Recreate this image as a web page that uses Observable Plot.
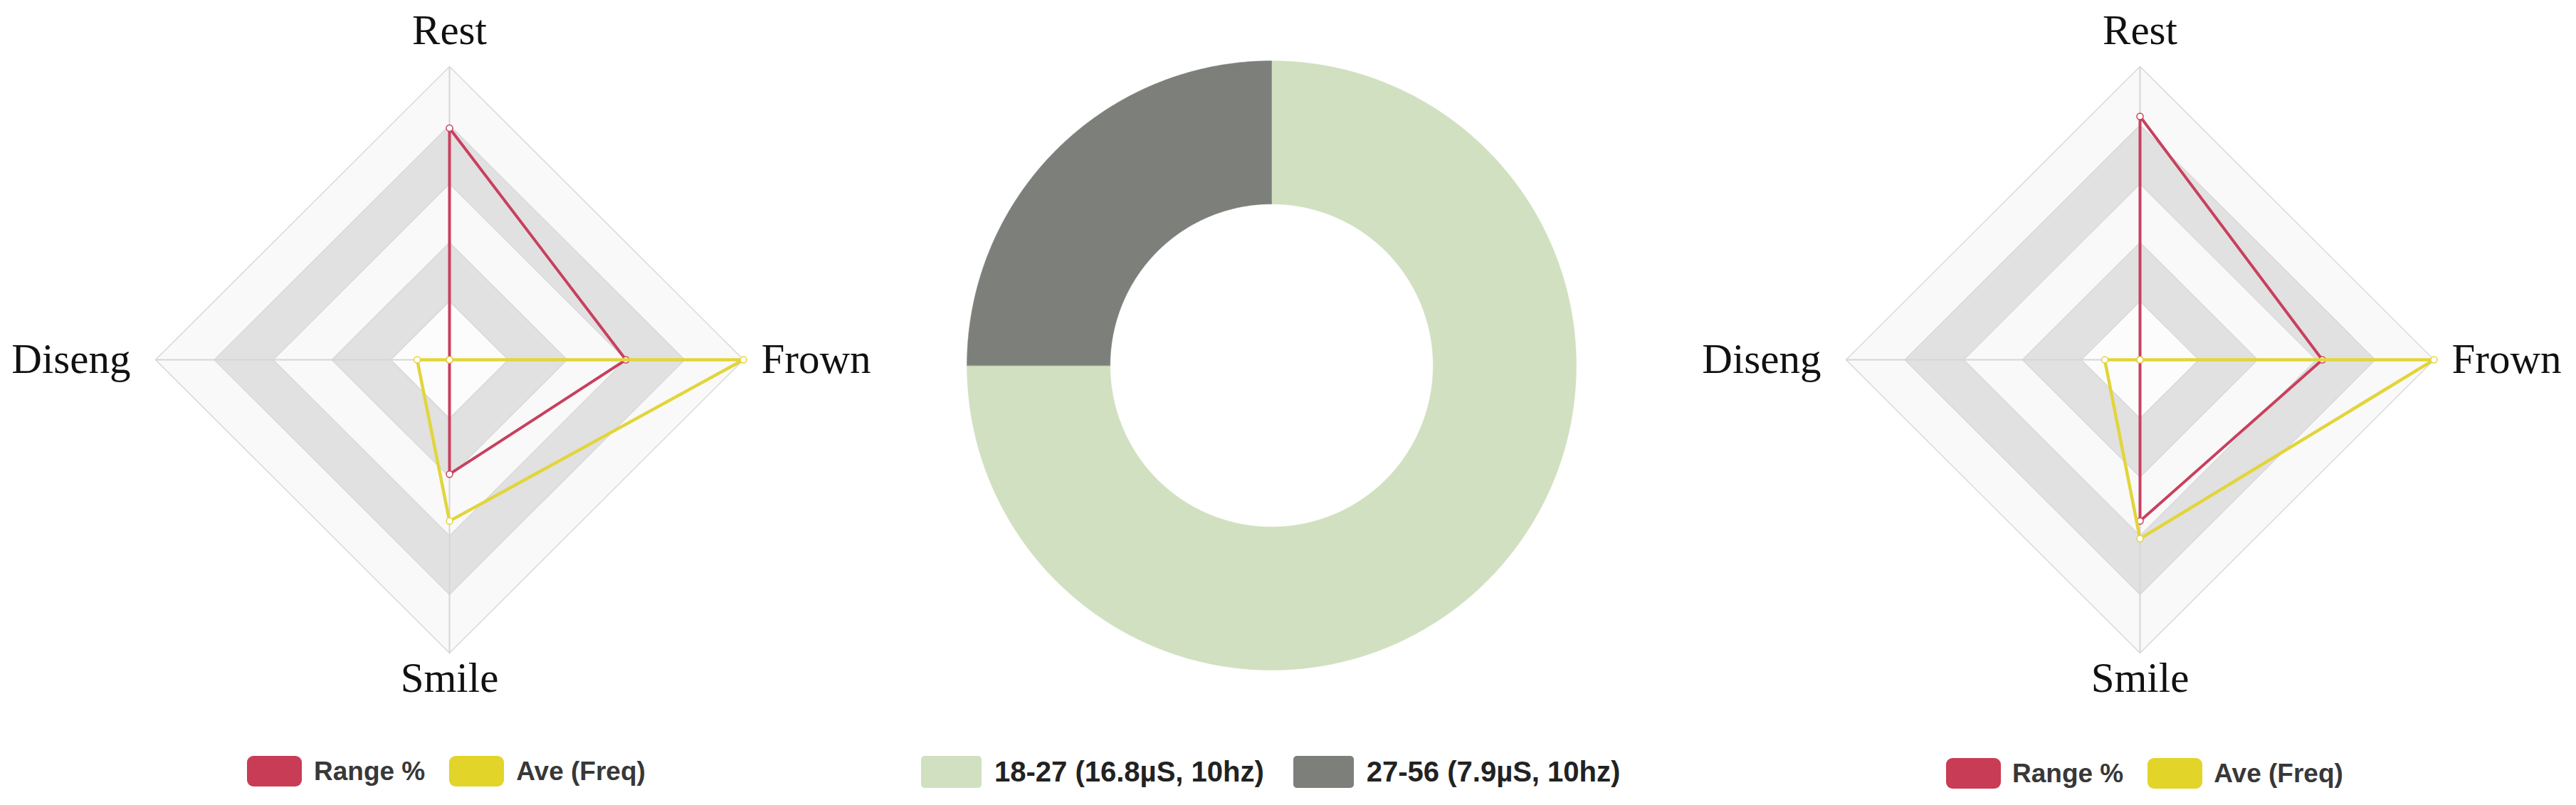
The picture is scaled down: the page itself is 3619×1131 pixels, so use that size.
<!DOCTYPE html>
<html><head><meta charset="utf-8">
<script src="https://cdn.jsdelivr.net/npm/d3@7"></script>
<script src="https://cdn.jsdelivr.net/npm/@observablehq/plot@0.6"></script>
<style>
body{margin:0;background:#fff;}
#root{position:relative;width:3619px;height:1131px;overflow:hidden;background:#fff;}
.chart{position:absolute;}
.legend{position:absolute;display:flex;align-items:center;font-family:'Liberation Sans',Arial,sans-serif;font-weight:bold;white-space:nowrap;}
.item{display:flex;align-items:center;}
.sw{display:inline-block;}
</style></head><body><div id="root"></div>
<script>
// ---- data ----
const axes = ["Rest", "Frown", "Smile", "Diseng"];
const levels = [100, 80, 60, 40, 20];
const seriesNames = ["Range %", "Ave (Freq)"];
const leftRange = [79, 60, 39, 0];
const leftAve = [0, 100, 55, 11];
const rightRange = [83, 62, 55, 0];
const rightAve = [0, 100, 61, 12];
const donutLabels = ["18-27 (16.8µS, 10hz)", "27-56 (7.9µS, 10hz)"];
const donutValues = [75, 25];

// ---- styles ----
const seriesColors = ["#c8405e", "#e2d53a"];
const legendColors = ["#c93c55", "#e3d429"];
const donutColors = ["#d1e0c0", "#7c7f7a"];

const root = document.getElementById("root");

function angleOf(i) { return i * 2 * Math.PI / axes.length; } // 0 = up, clockwise
function pt(i, v) { const a = angleOf(i); return {x: v * Math.sin(a), y: v * Math.cos(a)}; }

function radar(rangeVals, aveVals) {
  const ringMarks = levels.map((L, k) =>
    Plot.line(axes.map((a, i) => pt(i, L)), {
      x: "x", y: "y", curve: "linear-closed",
      fill: k === levels.length - 1 ? "#fcfcfc" : (k % 2 === 0 ? "#f9f9f9" : "#e1e1e1"),
      stroke: "#d9d9d9", strokeWidth: 1.5
    }));
  const spokes = Plot.link(axes.map((a, i) => pt(i, 100)), {
    x1: 0, y1: 0, x2: "x", y2: "y", stroke: "#d6d6d6", strokeWidth: 2
  });
  const series = [rangeVals, aveVals].map((vals, s) =>
    vals.map((v, i) => ({series: seriesNames[s], axis: axes[i], ...pt(i, v)})));
  const lineMarks = series.flatMap((pts, s) => [
    Plot.line(pts, {x: "x", y: "y", curve: "linear-closed", stroke: seriesColors[s], strokeWidth: s === 0 ? 4 : 4.5}),
    Plot.dot(pts, {x: "x", y: "y", r: 4.5, fill: "white", stroke: seriesColors[s], strokeWidth: 1.5})
  ]);
  const labels = axes.map((a, i) => {
    const p = pt(i, 100);
    const s = Math.sin(angleOf(i)), c = Math.cos(angleOf(i));
    return Plot.text([a], {
      x: p.x, y: p.y, text: d => d,
      textAnchor: s > 0.5 ? "start" : s < -0.5 ? "end" : "middle",
      dx: s > 0.5 ? 25 : s < -0.5 ? -35 : 0,
      dy: c > 0.5 ? -50 : c < -0.5 ? 36 : 0,
      lineAnchor: "middle",
      fontSize: 59, fontFamily: "'Liberation Serif', serif", fill: "#111"
    });
  });
  return Plot.plot({
    width: 1240, height: 1000,
    marginLeft: 207, marginRight: 207, marginTop: 88, marginBottom: 88,
    x: {domain: [-100, 100], axis: null},
    y: {domain: [-100, 100], axis: null},
    style: {background: "transparent", overflow: "visible"},
    marks: [...ringMarks, spokes, ...lineMarks, ...labels]
  });
}

function donut() {
  const pie = d3.pie().sort(null)(donutValues);
  const r1 = 1, r0 = 0.53;
  const marks = pie.map((d, j) => {
    const n = Math.max(2, Math.ceil((d.endAngle - d.startAngle) / (Math.PI / 360)));
    const pts = [];
    for (let k = 0; k <= n; k++) { const a = d.startAngle + (d.endAngle - d.startAngle) * k / n; pts.push({x: r1 * Math.sin(a), y: r1 * Math.cos(a)}); }
    for (let k = n; k >= 0; k--) { const a = d.startAngle + (d.endAngle - d.startAngle) * k / n; pts.push({x: r0 * Math.sin(a), y: r0 * Math.cos(a)}); }
    return Plot.line(pts, {x: "x", y: "y", curve: "linear-closed", fill: donutColors[j], stroke: donutColors[j], strokeWidth: 0.5});
  });
  return Plot.plot({
    width: 1000, height: 1000,
    marginLeft: 72, marginRight: 72, marginTop: 72, marginBottom: 72,
    x: {domain: [-1, 1], axis: null},
    y: {domain: [-1, 1], axis: null},
    style: {background: "transparent"},
    marks
  });
}

function place(el, left, top) {
  el.classList.add("chart");
  el.style.left = left + "px";
  el.style.top = top + "px";
  root.appendChild(el);
}

place(radar(leftRange, leftAve), 11, 5);
place(donut(), 1286, 13);
place(radar(rightRange, rightAve), 2386, 5);

function legend(names, colors, left, top, o) {
  const div = document.createElement("div");
  div.className = "legend";
  div.style.left = left + "px";
  div.style.top = top + "px";
  div.style.height = o.h + "px";
  div.style.fontSize = o.fs + "px";
  div.style.color = o.color;
  names.forEach((n, i) => {
    const it = document.createElement("div");
    it.className = "item";
    if (i < names.length - 1) it.style.marginRight = o.gap + "px";
    const sw = document.createElement("span");
    sw.className = "sw";
    sw.style.width = o.w + "px"; sw.style.height = o.h + "px";
    sw.style.background = colors[i]; sw.style.borderRadius = o.rad + "px";
    sw.style.marginRight = o.tgap + "px";
    const t = document.createElement("span");
    t.textContent = n;
    it.appendChild(sw); it.appendChild(t);
    div.appendChild(it);
  });
  root.appendChild(div);
}

legend(seriesNames, legendColors, 347, 1062, {w: 77, h: 43, rad: 9, fs: 37, gap: 34, tgap: 17, color: "#383838"});
legend(donutLabels, donutColors, 1294, 1062, {w: 85, h: 45, rad: 5, fs: 40, gap: 41, tgap: 18, color: "#222"});
legend(seriesNames, legendColors, 2734, 1065, {w: 77, h: 43, rad: 9, fs: 37, gap: 34, tgap: 16, color: "#383838"});
</script></body></html>
